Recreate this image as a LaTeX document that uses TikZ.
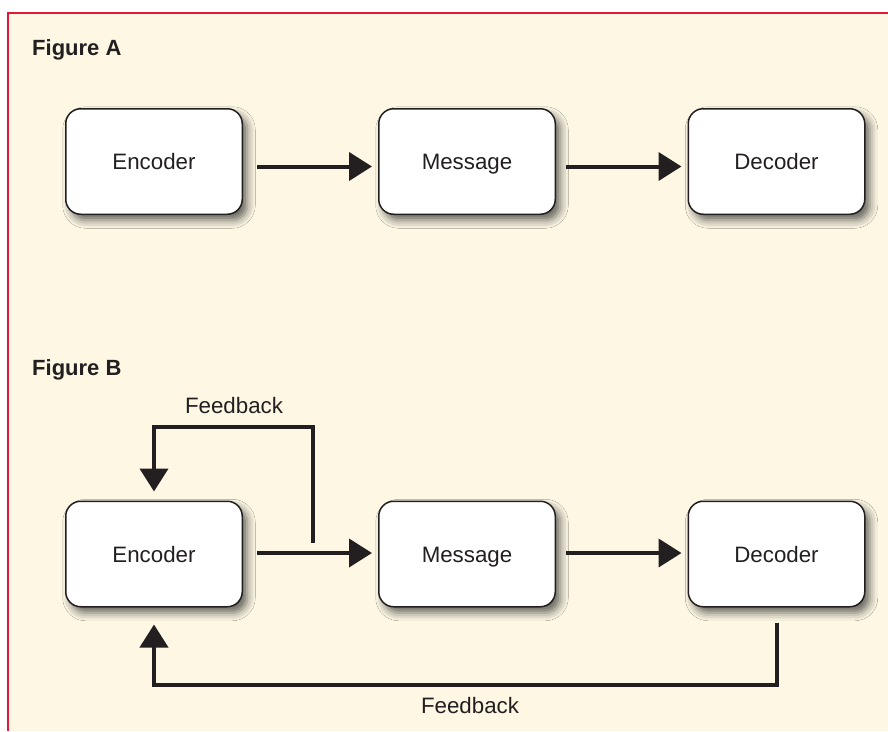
\documentclass[tikz,border=0pt]{standalone}
\usepackage{fontspec}
\setmainfont{Liberation Sans}
\usetikzlibrary{arrows.meta,shadows.blur}
\definecolor{cream}{RGB}{253,247,228}
\definecolor{redline}{RGB}{227,24,55}
\definecolor{ink}{RGB}{35,31,32}
\begin{document}
\begin{tikzpicture}[x=1pt,y=-1pt,
  box/.style={draw=ink, line width=1.5pt, fill=white, rounded corners=15pt,
    minimum width=176.5pt, minimum height=105.5pt, inner sep=0pt, text=ink,
    text height=18.5pt, text depth=2pt,
    font=\fontsize{22.3}{25}\selectfont,
    blur shadow={shadow xshift=5pt, shadow yshift=-6pt, shadow blur radius=8pt, shadow opacity=60}},
  arr/.style={draw=ink, line width=4pt, -{Triangle[length=23pt,width=28pt]}},
  lbl/.style={text=ink, font=\fontsize{22.3}{25}\selectfont, inner sep=0pt},
  figtitle/.style={text=ink, font=\bfseries\fontsize{22}{26}\selectfont, inner sep=0pt, anchor=base west}]
\useasboundingbox (0,0) rectangle (888,731);
\fill[white] (0,0) rectangle (888,731);
\fill[cream] (8,12.5) rectangle (888,731);
\draw[redline, line width=2pt] (8,731) -- (8,12.5) -- (888,12.5);

\node[figtitle] (tA) at (32,55) {Figure A};
\node[figtitle] (tB) at (32,375) {Figure B};

\node[box] (encA) at (154,161.5) {Encoder};
\node[box] (msgA) at (467,161.5) {Message};
\node[box] (decA) at (776.5,161.5) {Decoder};

\node[box] (encB) at (154,554) {Encoder};
\node[box] (msgB) at (467,554) {Message};
\node[box] (decB) at (776.5,554) {Decoder};

\draw[arr] ([xshift=14pt,yshift=-5pt]encA.east) -- ([xshift=-6pt,yshift=-5pt]msgA.west);
\draw[arr] ([xshift=10pt,yshift=-5pt]msgA.east) -- ([xshift=-6pt,yshift=-5pt]decA.west);

\draw[arr] ([xshift=14pt,yshift=1pt]encB.east) -- ([xshift=-6pt,yshift=1pt]msgB.west);
\draw[arr] ([xshift=10pt,yshift=1pt]msgB.east) -- ([xshift=-6pt,yshift=1pt]decB.west);

\coordinate (fb1) at (313,543);
\draw[arr] (fb1) |- ([yshift=74pt]encB.north) -- ([yshift=9pt]encB.north);
\node[lbl] (fbAl) at (234,406) {Feedback};

\draw[arr] ([yshift=-15pt]decB.south) |- ([yshift=-77pt]encB.south) -- ([yshift=-17pt]encB.south);
\node[lbl] (fbBl) at (470,706) {Feedback};
\end{tikzpicture}
\end{document}
